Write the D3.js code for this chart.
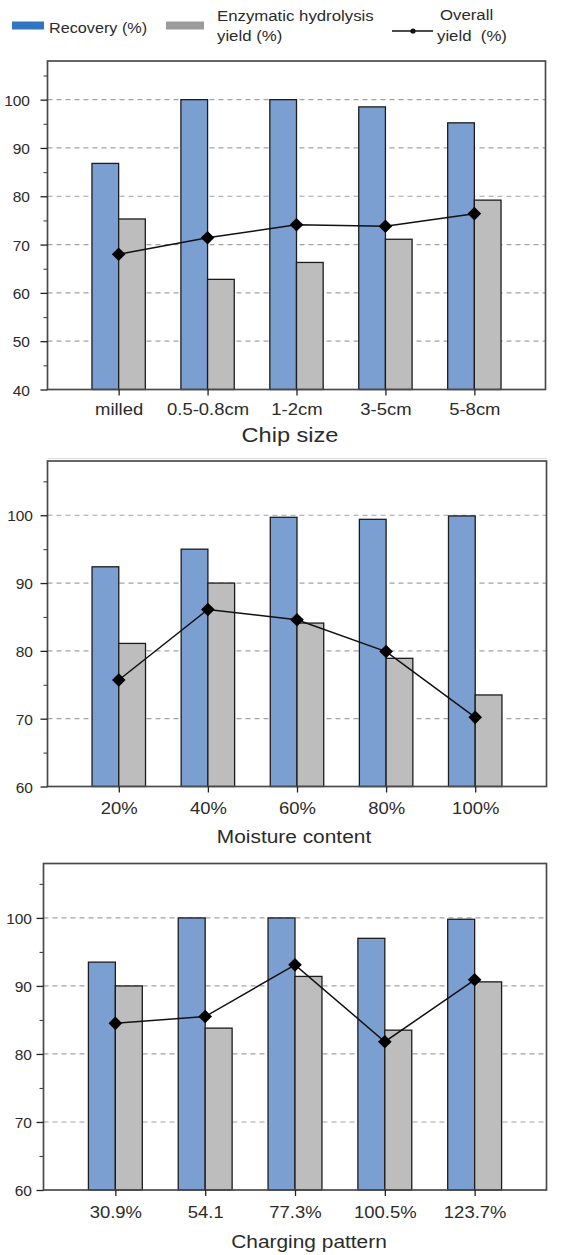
<!DOCTYPE html>
<html>
<head>
<meta charset="utf-8">
<script src="https://cdn.jsdelivr.net/npm/d3@7"></script>
<style>
  html, body { margin: 0; padding: 0; background: #fff; }
  svg { display: block; font-family: "Liberation Sans", Arial, Helvetica, sans-serif; }
  text { white-space: pre; }
</style>
</head>
<body>
<svg id="chart" width="582" height="1255"></svg>
<script>
// ---- data ----
const chipSizes       = ["milled", "0.5-0.8cm", "1-2cm", "3-5cm", "5-8cm"];
const chipRecovery    = [86.8, 100, 100, 98.5, 95.2];
const chipHydrolysis  = [75.3, 62.8, 66.3, 71.1, 79.2];
const chipOverall     = [68.0, 71.4, 74.1, 73.8, 76.4];

const moistureLevels     = ["20%", "40%", "60%", "80%", "100%"];
const moistureRecovery   = [92.4, 95.0, 99.7, 99.4, 99.9];
const moistureHydrolysis = [81.1, 90.0, 84.1, 78.9, 73.5];
const moistureOverall    = [75.7, 86.1, 84.6, 79.9, 70.2];

const chargingPatterns   = ["30.9%", "54.1", "77.3%", "100.5%", "123.7%"];
const chargingRecovery   = [93.5, 100, 100, 97.0, 99.8];
const chargingHydrolysis = [90.0, 83.8, 91.4, 83.5, 90.6];
const chargingOverall    = [84.5, 85.5, 93.1, 81.8, 90.9];

const chipTicks      = [40, 50, 60, 70, 80, 90, 100];
const chipMinor      = [45, 55, 65, 75, 85, 95, 105];
const upperTicks     = [60, 70, 80, 90, 100];
const upperMinor     = [65, 75, 85, 95, 105];

const legendLabels = ["Recovery (%)", ["Enzymatic hydrolysis", "yield (%)"], ["Overall", "yield  (%)"]];
const axisTitles   = ["Chip size", "Moisture content", "Charging pattern"];

// ---- style ----
const BAR_BLUE = "#7c9fd2";
const BAR_GRAY = "#bdbdbd";
const LEG_BLUE = "#2f75c0";
const LEG_GRAY = "#9b9b9b";
const FRAME = "#4a4a4a";
const TEXT = "#2b2b2b";

const svg = d3.select("#chart");

// text with a slight horizontal stretch
function label(g, x, y, txt, size, anchor, sx) {
  return g.append("text")
    .attr("transform", `translate(${x},${y}) scale(${sx},1)`)
    .attr("text-anchor", anchor)
    .attr("font-size", size)
    .attr("fill", TEXT)
    .text(txt);
}

// ---- legend ----
const leg = svg.append("g");
leg.append("rect").attr("x", 12).attr("y", 21.5).attr("width", 32).attr("height", 8).attr("fill", LEG_BLUE);
label(leg, 49, 33, legendLabels[0], 15, "start", 1.08);
leg.append("rect").attr("x", 166).attr("y", 21.5).attr("width", 38).attr("height", 8).attr("fill", LEG_GRAY);
label(leg, 217, 21, legendLabels[1][0], 15, "start", 1.12);
label(leg, 217, 41, legendLabels[1][1], 15, "start", 1.12);
leg.append("line").attr("x1", 392).attr("x2", 433).attr("y1", 31).attr("y2", 31)
  .attr("stroke", "#111").attr("stroke-width", 1.6);
leg.append("circle").attr("cx", 413).attr("cy", 31).attr("r", 2.6).attr("fill", "#111");
label(leg, 440, 20, legendLabels[2][0], 15, "start", 1.12);
label(leg, 437, 41, legendLabels[2][1], 15, "start", 1.12);

// ---- panels ----
const panels = [
  { cats: chipSizes, rec: chipRecovery, hyd: chipHydrolysis, ovr: chipOverall,
    ticks: chipTicks, minor: chipMinor, domain: [40, 108], title: axisTitles[0],
    left: 47.5, top: 61, right: 545.5, bottom: 389.5, labelX: 30,
    xLabelDy: 25.5, titleX: 290, titleY: 442, titleSize: 20.5, titleSx: 1.15 },
  { cats: moistureLevels, rec: moistureRecovery, hyd: moistureHydrolysis, ovr: moistureOverall,
    ticks: upperTicks, minor: upperMinor, domain: [60, 108], title: axisTitles[1],
    left: 47.5, top: 461, right: 546.5, bottom: 786.5, labelX: 33,
    xLabelDy: 28, titleX: 294, titleY: 843, titleSize: 18.5, titleSx: 1.13 },
  { cats: chargingPatterns, rec: chargingRecovery, hyd: chargingHydrolysis, ovr: chargingOverall,
    ticks: upperTicks, minor: upperMinor, domain: [60, 108], title: axisTitles[2],
    left: 43.5, top: 863.5, right: 546.5, bottom: 1190, labelX: 32,
    xLabelDy: 28, titleX: 309, titleY: 1248, titleSize: 18.5, titleSx: 1.13 }
];

const diamond = "M0,-6.8L6.8,0L0,6.8L-6.8,0Z";

panels.forEach(p => {
  const g = svg.append("g");
  const x = d3.scalePoint().domain(p.cats).range([p.left, p.right]).padding(0.8);
  const y = d3.scaleLinear().domain(p.domain).range([p.bottom, p.top]);
  const bw = x.step() * 0.3;

  // dashed grid at major ticks
  g.append("g").selectAll("line")
    .data(p.ticks.filter(t => t > p.domain[0]))
    .join("line")
    .attr("x1", p.left).attr("x2", p.right)
    .attr("y1", d => y(d)).attr("y2", d => y(d))
    .attr("stroke", "#a3a3a3").attr("stroke-width", 1.2)
    .attr("stroke-dasharray", "5,4");

  const rows = p.cats.map((c, i) => ({ c, rec: p.rec[i], hyd: p.hyd[i], ovr: p.ovr[i] }));

  // recovery bars (left of category centre)
  g.append("g").selectAll("rect")
    .data(rows).join("rect")
    .attr("x", d => x(d.c) - bw).attr("width", bw)
    .attr("y", d => y(d.rec)).attr("height", d => y(p.domain[0]) - y(d.rec))
    .attr("fill", BAR_BLUE).attr("stroke", "#1c1c1c").attr("stroke-width", 1.3);

  // hydrolysis bars (right of category centre)
  g.append("g").selectAll("rect")
    .data(rows).join("rect")
    .attr("x", d => x(d.c)).attr("width", bw)
    .attr("y", d => y(d.hyd)).attr("height", d => y(p.domain[0]) - y(d.hyd))
    .attr("fill", BAR_GRAY).attr("stroke", "#1c1c1c").attr("stroke-width", 1.3);

  // frame
  g.append("rect")
    .attr("x", p.left).attr("y", p.top)
    .attr("width", p.right - p.left).attr("height", p.bottom - p.top)
    .attr("fill", "none").attr("stroke", FRAME).attr("stroke-width", 1.7);

  // overall yield line
  const line = d3.line().x(d => x(d.c)).y(d => y(d.ovr));
  g.append("path").datum(rows).attr("d", line)
    .attr("fill", "none").attr("stroke", "#111").attr("stroke-width", 1.5);
  g.append("g").selectAll("path")
    .data(rows).join("path")
    .attr("d", diamond)
    .attr("transform", d => `translate(${x(d.c)},${y(d.ovr)})`)
    .attr("fill", "#000");

  // bottom axis
  const xAxis = g.append("g")
    .attr("transform", `translate(0,${p.bottom})`)
    .call(d3.axisBottom(x).tickSize(6).tickSizeOuter(0));
  xAxis.select(".domain").remove();
  xAxis.selectAll(".tick line").attr("stroke", "#222").attr("stroke-width", 1.3);
  xAxis.selectAll(".tick text")
    .attr("y", p.xLabelDy).attr("dy", null)
    .attr("transform", "scale(1.12,1)")
    .attr("font-size", 16.5).attr("fill", TEXT)
    .attr("font-family", "Liberation Sans, Arial, sans-serif");

  // left axis: major ticks with labels
  const yAxis = g.append("g")
    .attr("transform", `translate(${p.left},0)`)
    .call(d3.axisLeft(y).tickValues(p.ticks).tickSize(7).tickSizeOuter(0).tickFormat(d3.format("d")));
  yAxis.select(".domain").remove();
  yAxis.selectAll(".tick line").attr("stroke", "#222").attr("stroke-width", 1.3);
  yAxis.selectAll(".tick text")
    .attr("x", p.labelX - p.left).attr("dy", "0.36em")
    .attr("font-size", 15.5).attr("fill", TEXT)
    .attr("font-family", "Liberation Sans, Arial, sans-serif");

  // left axis: minor ticks
  const yMinor = g.append("g")
    .attr("transform", `translate(${p.left},0)`)
    .call(d3.axisLeft(y).tickValues(p.minor).tickSize(4).tickSizeOuter(0).tickFormat(""));
  yMinor.select(".domain").remove();
  yMinor.selectAll(".tick line").attr("stroke", "#444").attr("stroke-width", 1.1);

  // axis title
  label(g, p.titleX, p.titleY, p.title, p.titleSize, "middle", p.titleSx);
});

// faint rule under the first panel
svg.append("line").attr("x1", 48).attr("x2", 547).attr("y1", 458.5).attr("y2", 458.5)
  .attr("stroke", "#dcdcdc").attr("stroke-width", 1);
</script>
</body>
</html>
